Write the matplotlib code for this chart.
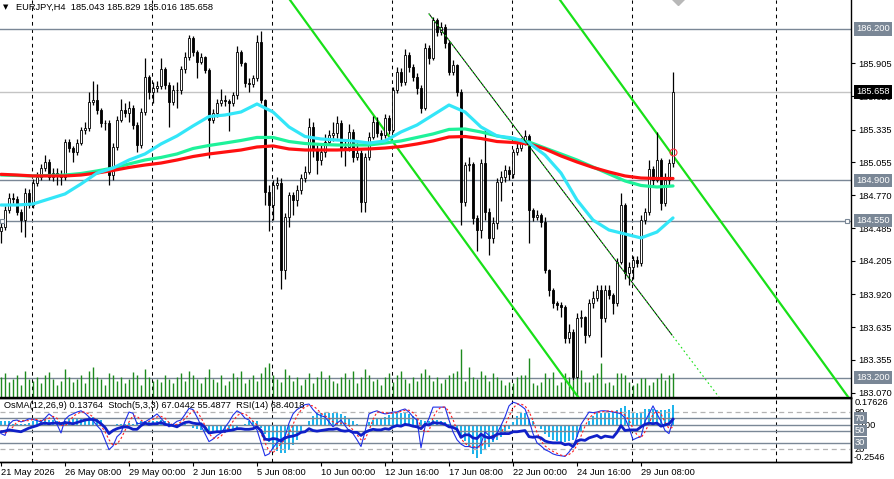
import numpy as np
import matplotlib
matplotlib.use('Agg')
import matplotlib.pyplot as plt

plt.rcParams['font.family'] = ['Liberation Sans', 'DejaVu Sans']
FS = 6.7

# ---- EURJPY H4 bars (open = previous close) ----
first_open = 184.460
closes = [184.499,184.643,184.744,184.735,184.628,184.557,184.787,184.686,184.873,184.929,
          185.002,185.058,184.929,184.959,184.944,184.929,185.230,185.174,185.144,185.217,
          185.331,185.346,185.574,185.589,185.503,185.389,185.394,184.944,185.187,185.417,
          185.503,185.480,185.518,185.374,185.202,185.488,185.789,185.660,185.690,185.709,
          185.853,185.718,185.574,185.675,185.672,185.853,185.961,186.120,186.004,185.918,
          185.956,185.847,185.417,185.475,185.561,185.589,185.580,185.566,185.632,186.004,
          185.905,185.733,185.730,185.776,186.090,185.589,184.800,184.686,184.858,184.873,
          184.127,184.585,184.772,184.729,184.815,184.916,184.972,185.359,185.159,185.073,
          185.144,185.230,185.288,185.303,185.389,185.174,185.187,185.316,185.101,185.131,
          184.714,185.101,185.273,185.402,185.303,185.288,185.432,185.331,185.675,185.832,
          185.746,185.976,185.875,185.789,185.690,185.518,186.034,185.948,186.277,186.176,
          186.219,186.077,185.832,185.890,185.660,184.714,185.030,185.039,184.572,184.471,
          185.045,184.628,184.400,184.529,184.886,184.927,184.987,184.953,185.144,185.174,
          185.217,185.279,184.643,184.585,184.600,184.542,184.127,183.955,183.841,183.826,
          183.811,183.540,183.596,183.209,183.712,183.720,183.568,183.841,183.884,183.955,
          183.712,183.955,183.912,183.846,184.198,184.686,184.099,184.155,184.213,184.185,
          184.557,184.628,184.996,184.897,185.073,184.701,184.897,185.043,185.658]
highs = [184.56,184.68,184.79,184.79,184.76,184.65,184.83,184.82,184.91,184.97,
         185.04,185.12,185.08,185.00,185.00,184.99,185.25,185.25,185.19,185.25,
         185.36,185.40,185.66,185.75,185.73,185.52,185.42,185.42,185.22,185.45,
         185.60,185.56,185.58,185.55,185.40,185.52,185.95,185.80,185.74,185.75,
         185.95,185.87,185.74,185.72,185.74,185.88,186.00,186.15,186.14,186.02,
         185.99,185.97,185.86,185.51,185.60,185.68,185.63,185.60,185.66,186.05,
         186.02,185.92,185.78,185.80,186.15,186.18,185.60,184.86,184.90,184.93,
         184.92,184.62,184.80,184.80,184.86,184.95,185.02,185.43,185.40,185.20,
         185.20,185.30,185.33,185.40,185.45,185.42,185.25,185.38,185.34,185.22,
         185.16,185.13,185.31,185.45,185.44,185.33,185.47,185.46,185.70,185.87,
         185.86,186.03,186.00,185.90,185.82,185.72,186.08,186.06,186.30,186.29,
         186.26,186.24,186.10,185.93,185.90,185.68,185.06,185.10,185.06,184.60,
         185.08,185.33,184.66,184.58,184.92,184.98,185.03,185.02,185.17,185.22,
         185.26,185.33,185.30,184.66,184.64,184.62,184.58,184.14,183.97,183.86,
         183.85,183.83,183.66,183.62,183.76,183.78,183.73,183.88,183.95,184.00,
         184.00,184.00,184.00,183.93,184.23,184.79,184.70,184.20,184.25,184.25,
         184.60,184.66,185.07,185.02,185.31,185.09,184.96,185.08,185.829]
lows = [184.36,184.47,184.62,184.70,184.60,184.45,184.41,184.66,184.66,184.85,
        184.90,184.98,184.90,184.89,184.86,184.86,184.90,185.14,185.06,185.12,
        185.20,185.30,185.32,185.55,185.47,185.36,185.33,184.86,184.90,185.16,
        185.40,185.44,185.40,185.34,185.14,185.18,185.46,185.60,185.56,185.66,
        185.68,185.68,185.36,185.55,185.52,185.64,185.82,185.93,185.97,185.78,
        185.90,185.82,185.09,185.39,185.44,185.54,185.54,185.32,185.54,185.60,
        185.88,185.70,185.66,185.70,185.75,185.56,184.69,184.46,184.56,184.82,
        183.96,184.05,184.50,184.60,184.68,184.78,184.88,184.95,185.10,184.95,
        185.03,185.10,185.20,185.24,185.26,185.10,185.02,185.15,185.06,185.07,
        184.63,184.63,185.07,185.25,185.27,185.22,185.26,185.30,185.31,185.65,
        185.71,185.72,185.83,185.75,185.64,185.48,185.50,185.90,185.93,186.14,
        186.15,186.04,185.80,185.80,185.62,184.51,184.68,184.98,184.52,184.29,
        184.40,184.56,184.26,184.36,184.48,184.72,184.88,184.90,184.92,185.12,
        185.15,185.20,184.36,184.55,184.56,184.50,184.10,183.90,183.80,183.78,
        183.72,183.50,183.50,183.18,183.20,183.64,183.50,183.55,183.80,183.86,
        183.38,183.68,183.88,183.75,183.82,184.18,184.05,184.00,184.05,184.15,
        184.16,184.52,184.60,184.86,184.88,184.64,184.68,184.86,185.016]
volumes = [20,24,15,18,22,12,26,18,16,20,14,22,25,18,12,16,28,20,15,18,
           22,14,26,30,20,18,12,24,22,16,20,14,18,25,22,12,28,20,16,18,15,
           22,18,14,20,24,16,26,22,18,14,20,28,18,15,22,12,16,24,20,26,
           14,18,22,16,24,30,34,22,18,15,28,22,16,20,12,18,24,14,20,26,
           18,22,16,14,20,24,18,26,14,20,28,22,16,18,12,20,24,15,22,26,
           18,14,20,16,24,28,22,16,20,14,18,22,24,26,48,16,30,20,18,26,22,16,24,20,
           17,12,15,14,20,22,22,39,14,12,15,24,19,25,12,15,24,20,17,22,
           27,15,15,22,24,34,14,15,12,24,24,22,15,12,14,19,19,12,15,19,24,17,22,24]

# moving averages, one value every 4 bars
ma_step = 4
ma_cyan = [184.686,184.686,184.695,184.738,184.781,184.867,184.961,185.004,185.073,185.125,
           185.211,185.280,185.366,185.447,185.460,185.486,185.555,185.486,185.357,185.275,
           185.254,185.245,185.237,185.219,185.237,185.314,185.374,185.460,185.546,185.486,
           185.357,185.280,185.262,185.219,185.116,184.961,184.729,184.557,184.471,184.437,
           184.403,184.454,184.575]
ma_green = [184.944,184.940,184.936,184.940,184.944,184.957,184.979,185.004,185.039,185.073,
            185.095,185.125,185.172,185.198,185.219,185.241,185.267,185.267,185.232,185.215,
            185.207,185.202,185.202,185.202,185.219,185.237,185.267,185.297,185.336,185.340,
            185.314,185.280,185.254,185.228,185.176,185.125,185.073,185.013,184.953,184.893,
            184.854,184.841,184.850]
ma_red = [184.950,184.944,184.936,184.936,184.936,184.944,184.961,184.983,185.009,185.030,
          185.047,185.073,185.103,185.125,185.142,185.159,185.185,185.194,185.168,185.159,
          185.159,185.159,185.164,185.168,185.176,185.189,185.211,185.237,185.271,185.275,
          185.258,185.232,185.224,185.211,185.168,185.108,185.056,185.009,184.970,184.936,
          184.918,184.914,184.914]

# indicators
osma = [.03,.03,.03,.01,.01,.01,.01,.015,.03,.035,
        .035,.04,.035,.035,.025,.02,.025,.04,.045,.045,
        .05,.05,.055,.055,.05,.035,0,-.01,-.01,.005,
        .01,.01,.015,.01,.02,.025,.03,.03,.03,.03,
        .035,.03,.02,.01,.01,.01,.005,-.01,-.02,-.025,
        -.035,-.045,-.05,-.055,-.057,-.057,-.055,-.05,-.04,-.02,
        -.005,.01,.025,.03,.03,-.02,-.06,-.12,-.17,-.18,
        -.19,-.19,-.17,-.14,-.10,-.05,-.01,.03,.06,.08,
        .085,.085,.08,.08,.08,.075,.06,.05,.03,.01,
        -.005,0,.02,.035,.045,.05,.055,.07,.08,.085,
        .085,.085,.075,.06,.05,.035,.03,.03,.035,.035,
        .03,.02,.01,0,-.04,-.08,-.11,-.15,-.2,-.23,
        -.2,-.17,-.15,-.12,-.1,-.08,-.06,-.03,.02,.06,
        .08,.08,.05,.03,0,-.03,-.06,-.08,-.1,-.11,
        -.115,-.115,-.11,-.1,-.08,-.04,0,.03,.06,.08,
        .08,.08,.085,.09,.1,.12,.13,.1,.08,.08,
        .09,.11,.11,.11,.1,.1,.1,.11,.13764]
stoch_k = [45,42,60,66,67,64,66,69,68,66,64,70,77,72,60,46,68,74,77,80,
           82,78,72,66,58,51,35,19,25,40,46,65,80,78,61,62,64,68,72,77,
           70,62,56,60,65,67,76,86,84,72,58,45,32,36,42,46,55,64,75,82,
           78,70,67,58,51,30,9,12,22,30,36,40,62,77,84,88,92,93,84,77,
           74,72,64,56,62,67,58,50,45,35,24,48,77,80,82,79,77,78,80,80,
           83,85,80,72,67,22,56,70,88,88,88,88,67,48,35,28,24,24,22,22,
           28,48,42,35,45,58,72,90,96,94,90,85,67,45,30,25,19,16,12,10,
           9,8,15,24,40,60,70,80,79,80,82,82,81,80,79,77,70,55,35,38,
           40,65,77,90,77,65,50,45,67.0442]
stoch_d = [50,46,49,56,64,66,66,66,68,68,66,67,70,73,70,59,58,63,73,77,
           80,80,77,72,65,58,48,35,26,28,37,50,64,74,73,67,62,65,68,72,
           73,70,63,59,60,64,69,76,82,81,71,58,45,38,37,41,48,55,65,74,
           78,77,72,65,59,46,30,17,14,21,29,35,46,60,74,83,88,91,90,85,
           78,74,70,64,61,62,62,58,51,43,35,36,50,68,80,80,79,78,78,79,
           81,83,83,79,73,54,48,49,71,82,88,88,81,68,50,37,29,25,24,23,
           24,32,38,42,41,46,58,73,86,93,93,90,81,66,47,33,25,20,16,13,
           10,9,11,16,26,41,57,70,76,80,80,81,82,81,80,79,75,67,53,43,
           38,48,61,77,81,77,64,53,55.4877]
rsi = [48,49,51,50,49,48,51,54,56,58,61,62,61,62,62,61,63,62,61,63,
       65,67,68,68,66,61,55,45,50,53,55,56,55,52,52,58,62,60,61,61,
       63,60,59,58,56,60,63,64,62,61,61,55,46,47,48,48,49,50,51,53,
       53,52,52,53,56,50,36,35,37,36,33,38,40,41,43,47,48,53,50,49,
       50,51,52,52,53,50,49,50,47,47,42,47,50,52,51,51,53,52,56,58,
       57,60,59,57,56,53,60,59,63,62,62,60,56,55,52,39,43,43,38,37,
       44,40,38,40,44,45,45,45,48,48,49,50,40,39,40,38,33,31,30,30,
       30,27,28,24,33,35,34,38,40,42,38,41,40,39,47,58,50,51,51,51,
       56,60,62,61,62,57,59,61,68.4018]

# horizontal levels / trend objects
levels = [186.200, 184.900, 184.550, 183.200]
price_ticks = [185.905, 185.620, 185.335, 185.055, 184.770, 184.485,
               184.205, 183.920, 183.635, 183.355, 183.070]
channel_a = [(77.5, 186.2), (140.8, 183.2)]
channel_b = [(145.0, 186.2), (208.3, 183.2)]
trend_t = [107.0, 167.75]
trend_p = [186.330, 183.568]
alert_price = 185.139
# week separators (bar positions of the dashed grid)
grid_bars = [7.75, 37.75, 67.75, 97.75, 127.75, 157.75, 193.75]
date_labels = ['21 May 2026', '26 May 08:00', '29 May 00:00', '2 Jun 16:00', '5 Jun 08:00',
               '10 Jun 00:00', '12 Jun 16:00', '17 Jun 08:00', '22 Jun 00:00', '24 Jun 16:00',
               '29 Jun 08:00']

n = len(closes)
for arr in (highs, lows, volumes, osma, stoch_k, stoch_d, rsi):
    assert len(arr) == n, len(arr)

c = np.array(closes)
o = np.array([first_open] + closes[:-1])
hi = np.array(highs)
lo = np.array(lows)
x = np.arange(n)
up = c >= o

W, H = 895, 479
fig = plt.figure(figsize=(W / 100, H / 100), dpi=100)
ax = fig.add_axes([0, (H - 397) / H, 851 / W, 397 / H])
ah = fig.add_axes([0, (H - 462) / H, 851 / W, 64 / H])
ai = ah.twinx()

XL = (-0.25, 212.5)
SLATE = '#7a8796'
dash = (0, (3.5, 3.5))

# ---------------- main pane ----------------
ax.set_xlim(*XL)
ax.set_ylim(183.035, 186.449)
for gx in grid_bars:
    ax.axvline(gx, color='black', lw=0.75, ls=dash, zorder=1)
for lv in levels:
    ax.axhline(lv, color=SLATE, lw=1, zorder=1)
ax.axhline(c[-1], color='#c4c4c4', lw=1, zorder=1)

ax.vlines(x, 0, np.array(volumes) / 397.0, transform=ax.get_xaxis_transform(),
          color='#1e8a1e', lw=1, zorder=2)

ax.vlines(x, lo, hi, color='black', lw=0.9, zorder=4)
ax.bar(x, np.abs(c - o), bottom=np.minimum(o, c), width=0.72,
       color=np.where(up, 'white', 'black'), edgecolor='black', lw=0.6, zorder=5)

ma_x = np.arange(0, n, ma_step)
ax.plot(ma_x, ma_green, color='#1ef29a', lw=2.3, zorder=6, solid_capstyle='round')
ax.plot(ma_x, ma_red, color='#ff1010', lw=2.3, zorder=6, solid_capstyle='round')
ax.plot(ma_x, ma_cyan, color='#33e6f8', lw=2.3, zorder=6, solid_capstyle='round')

ax.axline(*channel_a, color='#18e018', lw=1.6, zorder=3)
ax.axline(*channel_b, color='#18e018', lw=1.6, zorder=3)
slope = (trend_p[1] - trend_p[0]) / (trend_t[1] - trend_t[0])
ray_end = trend_t[1] + 14
ax.plot(trend_t, trend_p, color='black', lw=0.7, zorder=7)
ax.plot([trend_t[0], ray_end], [trend_p[0], trend_p[0] + slope * (ray_end - trend_t[0])],
        color='#18e018', lw=0.8, ls=(0, (1.5, 2.5)), zorder=7)

ax.plot(n - 1, alert_price, 'o', mfc='none', mec='#ff3040', ms=5, mew=0.8, zorder=8)
ax.plot(n + 0.25, 186.455, marker='D', color='#b8b8b8', ms=6, zorder=8)
ax.plot([XL[0] + 0.6, XL[1] - 0.9], [levels[2]] * 2, ls='none', marker='s',
        mfc='white', mec=SLATE, ms=3.5, mew=0.8, zorder=8, clip_on=False)

ax.yaxis.tick_right()
ax.set_yticks(price_ticks)
ax.set_yticklabels([f'{t:.3f}' for t in price_ticks])
ax.tick_params(axis='y', length=3, width=0.8, pad=2, labelsize=FS)
ax.tick_params(axis='x', bottom=False, labelbottom=False)
for s in ('left', 'top'):
    ax.spines[s].set_visible(False)
for s in ('right', 'bottom'):
    ax.spines[s].set_linewidth(1)

tr = ax.get_yaxis_transform()
for lv in levels:
    ax.text(1 + 5.5 / 851, lv, f'{lv:.3f}', transform=tr, fontsize=FS, color='white',
            va='center', ha='left', zorder=10,
            bbox=dict(boxstyle='square,pad=0.22', fc=SLATE, ec='none'))
ax.text(1 + 5.5 / 851, c[-1], f'{c[-1]:.3f}', transform=tr, fontsize=FS, color='white',
        va='center', ha='left', zorder=10,
        bbox=dict(boxstyle='square,pad=0.22', fc='black', ec='none'))

# ---------------- indicator pane ----------------
ah.set_xlim(*XL)
ah.set_ylim(-0.2546, 0.186)
ai.set_ylim(-1.1, 102.8)
for gx in grid_bars:
    ah.axvline(gx, color='black', lw=0.75, ls=dash, zorder=1)
ah.bar(x, osma, width=0.72, color='#1fb4ec', zorder=2)
ah.axhline(0, color=SLATE, lw=1, zorder=3)
for lv in (70, 50, 30):
    ai.axhline(lv, color=SLATE, lw=1, zorder=1)
for lv in (80, 20):
    ai.axhline(lv, color='#b4b4b4', lw=0.9, ls=(0, (4, 3)), zorder=1)
ai.plot(x, stoch_k, color='#2030e8', lw=0.8, zorder=3)
ai.plot(x, stoch_d, color='#ff2020', lw=0.8, ls=(0, (2, 2)), zorder=3)
ai.plot(x, rsi, color='#1020c8', lw=2, zorder=4)

ah.set_yticks([])
ai.set_yticks([])
ah.set_xticks(x[::16])
ah.set_xticklabels(date_labels, ha='left')
ah.tick_params(axis='x', length=3, width=0.8, pad=1, labelsize=FS)
for a in (ah, ai):
    a.spines['left'].set_visible(False)
    for s in ('top', 'bottom', 'right'):
        a.spines[s].set_linewidth(1)

ti = ai.get_yaxis_transform()
th = ah.get_yaxis_transform()
xr = 1 + 4 / 851
ah.text(xr, 0.186, '0.17626', transform=th, fontsize=FS, va='top', ha='left')
ah.text(xr - 1 / 851, -0.2546, '-0.2546', transform=th, fontsize=FS, va='bottom', ha='left')
ah.text(xr + 3 / 851, 0, '0.00', transform=th, fontsize=FS, va='center', ha='left')
ai.text(xr, 80, '80', transform=ti, fontsize=FS, va='center', ha='left', zorder=5)
ai.text(xr, 20, '20', transform=ti, fontsize=FS, va='center', ha='left', zorder=5)
for lv in (70, 50, 30):
    ai.text(xr, lv, str(lv), transform=ti, fontsize=FS, color='white', va='center',
            ha='left', zorder=10, bbox=dict(boxstyle='square,pad=0.15', fc=SLATE, ec='none'))

# ---------------- captions ----------------
fig.text(3 / W, 1 - 7 / H, '▼', fontsize=5, va='center', ha='left',
         family=['DejaVu Sans'])
fig.text(16 / W, 1 - 7 / H,
         f'EURJPY,H4  {o[-1]:.3f} {hi[-1]:.3f} {lo[-1]:.3f} {c[-1]:.3f}',
         fontsize=FS, va='center', ha='left')
fig.text(4 / W, 1 - 406 / H,
         f'OsMA(12,26,9) {osma[-1]:.5f}  Stoch(5,3,3) {stoch_k[-1]:.4f} '
         f'{stoch_d[-1]:.4f}  RSI(14) {rsi[-1]:.4f}',
         fontsize=FS, va='center', ha='left')

fig.savefig('out.png', dpi=100, facecolor='white')
